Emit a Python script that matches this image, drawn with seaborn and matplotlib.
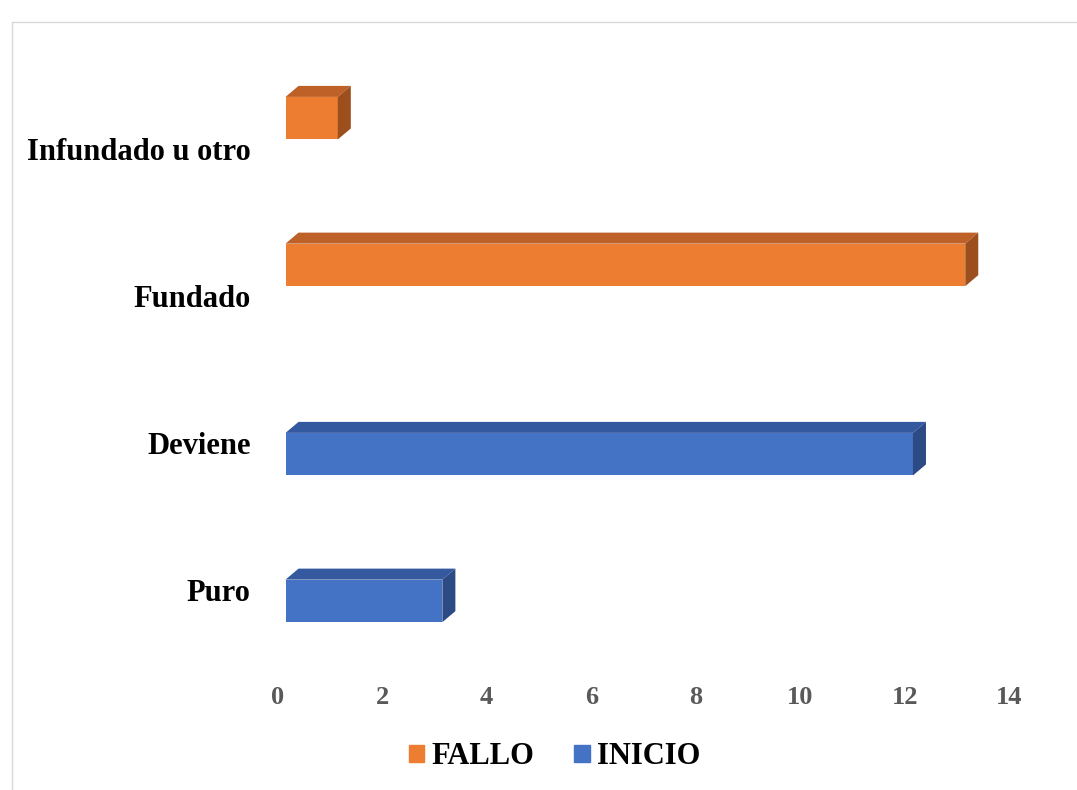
import numpy as np
import pandas as pd
import matplotlib.pyplot as plt
import matplotlib.patches as mpatches
from matplotlib.transforms import ScaledTranslation, IdentityTransform
import seaborn as sns

categories = ["Infundado u otro", "Fundado", "Deviene", "Puro"]
values = [1, 13, 12, 3]
series = ["FALLO", "FALLO", "INICIO", "INICIO"]
series_order = ["FALLO", "INICIO"]
x_ticks = [0, 2, 4, 6, 8, 10, 12, 14]

front = {"FALLO": "#ED7D31", "INICIO": "#4472C4"}
top = {"FALLO": "#BE6128", "INICIO": "#35599F"}
side = {"FALLO": "#9C4F1C", "INICIO": "#2C4A84"}

df = pd.DataFrame({"cat": categories, "val": values, "serie": series})

sns.set_style("white")
plt.rcParams['font.family'] = ['Liberation Serif', 'DejaVu Serif']
plt.rcParams['font.weight'] = 'bold'
plt.rcParams['text.color'] = 'black'

fig = plt.figure(figsize=(10.77, 7.9), dpi=100)
ax = fig.add_axes([0.2651, 0.1456, 0.6797, 0.8038])

sns.barplot(data=df, x="val", y="cat", hue="serie", hue_order=series_order,
            order=categories, palette=front, orient="h", dodge=True,
            width=0.58, gap=0, saturation=1, linewidth=0, errorbar=None, ax=ax)

ax.set_xlim(0, 14)
ax.set_ylim(3.65, -0.678)
ax.set_xticks(x_ticks)
ax.set_xticklabels([str(t) for t in x_ticks])
ax.set_xlabel("")
ax.set_ylabel("")
for s in ax.spines.values():
    s.set_visible(False)
ax.tick_params(axis="x", length=0, pad=8, labelsize=19, labelcolor="#595959")
ax.tick_params(axis="y", length=0, pad=25, labelsize=22, labelcolor="black")
for lab in ax.get_xticklabels():
    lab.set_fontweight("bold")
    lab.set_transform(lab.get_transform() + ScaledTranslation(-8 / 100, 0, fig.dpi_scale_trans))
for lab in ax.get_yticklabels():
    lab.set_fontweight("bold")
    lab.set_transform(lab.get_transform() + ScaledTranslation(0, -10 / 100, fig.dpi_scale_trans))

if ax.get_legend() is not None:
    ax.get_legend().remove()

# 3D look: top and side faces in pixel space
dx, dy = 13, 11
for bar in list(ax.patches):
    w = bar.get_width()
    if not np.isfinite(w) or w <= 0:
        continue
    fc = bar.get_facecolor()
    key = "FALLO" if abs(fc[0] - 0.93) < 0.05 else "INICIO"
    x0, y0 = bar.get_x(), bar.get_y()
    h = bar.get_height()
    (ax0, ay0), (ax1, ay1) = ax.transData.transform([(x0, y0), (x0 + w, y0 + h)])
    ytop, ybot = max(ay0, ay1), min(ay0, ay1)
    top_face = [(ax0, ytop), (ax1, ytop), (ax1 + dx, ytop + dy), (ax0 + dx, ytop + dy)]
    side_face = [(ax1, ytop), (ax1 + dx, ytop + dy), (ax1 + dx, ybot + dy), (ax1, ybot)]
    for pts, col in [(top_face, top[key]), (side_face, side[key])]:
        poly = mpatches.Polygon(pts, closed=True, facecolor=col, edgecolor="none",
                                transform=IdentityTransform())
        fig.add_artist(poly)

handles = [mpatches.Patch(color=front[s], label=s) for s in series_order]
leg = fig.legend(handles=handles, loc="center", bbox_to_anchor=(0.515, 0.042), ncol=2,
                 frameon=False, prop={"family": "Liberation Serif", "weight": "bold", "size": 22},
                 handlelength=0.5, handleheight=0.5, handletextpad=0.25, columnspacing=1.3)
for t in leg.get_texts():
    t.set_color("black")

# chart area border
fig.add_artist(mpatches.Rectangle((12 / 1077, -0.01), 1.1, 1 - 22 / 790 + 0.01,
                                  transform=fig.transFigure, fill=False,
                                  edgecolor="#D9D9D9", linewidth=1))

fig.savefig("out.png", dpi=100)
